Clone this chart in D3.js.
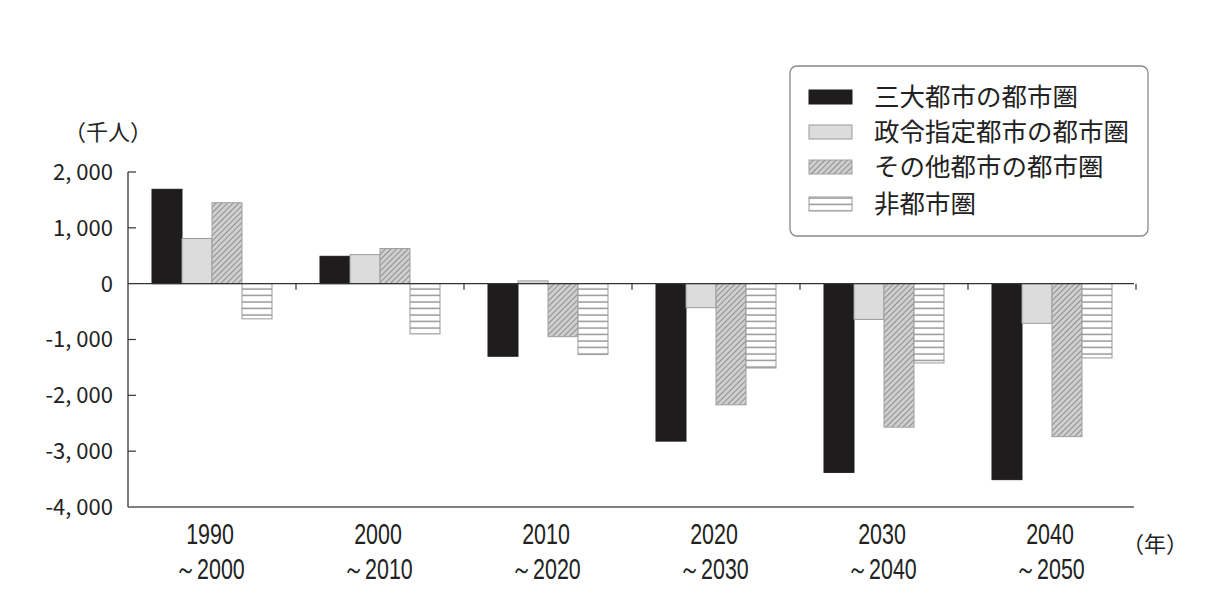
<!DOCTYPE html>
<html><head><meta charset="utf-8">
<script src="https://cdn.jsdelivr.net/npm/d3@7"></script>
<style>
body{margin:0;background:#fff;}
svg text{font-family:"Noto Sans CJK JP","Noto Sans",sans-serif;fill:#222;}
</style></head>
<body><svg id="c" width="1228" height="615"></svg>
<script>
const periodsFrom = ["1990","2000","2010","2020","2030","2040"];
const periodsTo = ["～2000","～2010","～2020","～2030","～2040","～2050"];
const seriesNames = ["三大都市の都市圏","政令指定都市の都市圏","その他都市の都市圏","非都市圏"];
const threeMetro = [1690, 490, -1300, -2820, -3380, -3510];
const designated = [810, 520, 50, -430, -640, -710];
const otherCities = [1450, 630, -950, -2170, -2570, -2740];
const nonMetro = [-630, -900, -1270, -1510, -1420, -1330];
const yTicks = [2000, 1000, 0, -1000, -2000, -3000, -4000];
const yTickLabels = ["2, 000","1, 000","0","-1, 000","-2, 000","-3, 000","-4, 000"];

const svg = d3.select("#c");
const defs = svg.append("defs");
const p1 = defs.append("pattern").attr("id","hatch").attr("patternUnits","userSpaceOnUse").attr("width",4).attr("height",4).attr("patternTransform","rotate(45)");
p1.append("rect").attr("width",4).attr("height",4).attr("fill","#cfcfcf");
p1.append("line").attr("x1",0).attr("y1",0).attr("x2",0).attr("y2",4).attr("stroke","#7f7f7f").attr("stroke-width",1.6);
const p2 = defs.append("pattern").attr("id","hlines").attr("patternUnits","userSpaceOnUse").attr("width",8).attr("height",6.5);
p2.append("rect").attr("width",8).attr("height",6.5).attr("fill","#fff");
p2.append("line").attr("x1",0).attr("y1",3).attr("x2",8).attr("y2",3).attr("stroke","#888").attr("stroke-width",1.3);

const fills = ["#1e1c1c","#dcdcdc","url(#hatch)","url(#hlines)"];
const strokes = ["#1e1c1c","#9a9a9a","#a0a0a0","#999"];
const seriesData = [threeMetro, designated, otherCities, nonMetro];

const x0 = d3.scaleBand().domain(periodsFrom).range([128,1136]).paddingInner(0).paddingOuter(0);
const x1 = d3.scaleBand().domain(d3.range(4)).range([24, x0.bandwidth()-24]);
const y = d3.scaleLinear().domain([-4000,2000]).range([507,172]);

// bars
const g = svg.append("g");
periodsFrom.forEach((p,i)=>{
  seriesData.forEach((s,k)=>{
    const v = s[i];
    g.append("rect")
      .attr("x", x0(p)+x1(k))
      .attr("y", y(Math.max(0,v)))
      .attr("width", x1.bandwidth())
      .attr("height", Math.abs(y(v)-y(0)))
      .attr("fill", fills[k]).attr("stroke", strokes[k]).attr("stroke-width", 1);
  });
});

// y axis
svg.append("line").attr("x1",128).attr("x2",128).attr("y1",y(2000)).attr("y2",y(-4000)).attr("stroke","#333").attr("stroke-width",1.3);
yTicks.forEach((t,i)=>{
  if (t!==0 && t!==-4000) svg.append("line").attr("x1",128).attr("x2",136).attr("y1",y(t)).attr("y2",y(t)).attr("stroke","#333").attr("stroke-width",1.2);
  svg.append("text").attr("x",113).attr("y",y(t)).attr("dy","0.36em").attr("text-anchor","end").attr("font-size",22).text(yTickLabels[i]);
});
// zero line
svg.append("line").attr("x1",128).attr("x2",1134).attr("y1",y(0)).attr("y2",y(0)).attr("stroke","#333").attr("stroke-width",1.3);
periodsFrom.forEach(p=>{
  const xx = x0(p)+x0.bandwidth();
  svg.append("line").attr("x1",xx).attr("x2",xx).attr("y1",y(0)).attr("y2",y(0)+6).attr("stroke","#333").attr("stroke-width",1.2);
});
// bottom line
svg.append("line").attr("x1",128).attr("x2",1134).attr("y1",y(-4000)).attr("y2",y(-4000)).attr("stroke","#555").attr("stroke-width",1.5);

// x labels (condensed)
periodsFrom.forEach((p,i)=>{
  const cx = x0(p)+x0.bandwidth()/2-2;
  svg.append("text").attr("transform",`translate(${cx},544) scale(0.74,1)`).attr("text-anchor","middle").attr("font-size",29)
    .style("font-family","'Liberation Sans','Roboto',sans-serif").text(p);
  svg.append("text").attr("transform",`translate(${cx},579) scale(0.74,1)`).attr("text-anchor","middle").attr("font-size",29)
    .style("font-family","'Liberation Sans','Roboto',sans-serif").text(periodsTo[i]);
});
svg.append("text").attr("x",1155).attr("y",552).attr("text-anchor","middle").attr("font-size",22).text("（年）");
svg.append("text").attr("x",108).attr("y",140).attr("text-anchor","middle").attr("font-size",22).text("（千人）");

// legend
const lg = svg.append("g");
lg.append("rect").attr("x",790).attr("y",66).attr("width",358).attr("height",170).attr("rx",7).attr("fill","#fff").attr("stroke","#888").attr("stroke-width",1.3);
const rowY = [97,132,167,204];
seriesNames.forEach((n,k)=>{
  lg.append("rect").attr("x",809).attr("y",rowY[k]-7).attr("width",43).attr("height",14).attr("fill",fills[k]).attr("stroke",strokes[k]).attr("stroke-width",1);
  lg.append("text").attr("x",874).attr("y",rowY[k]).attr("dy","0.36em").attr("font-size",25.5).text(n);
});
</script></body></html>
